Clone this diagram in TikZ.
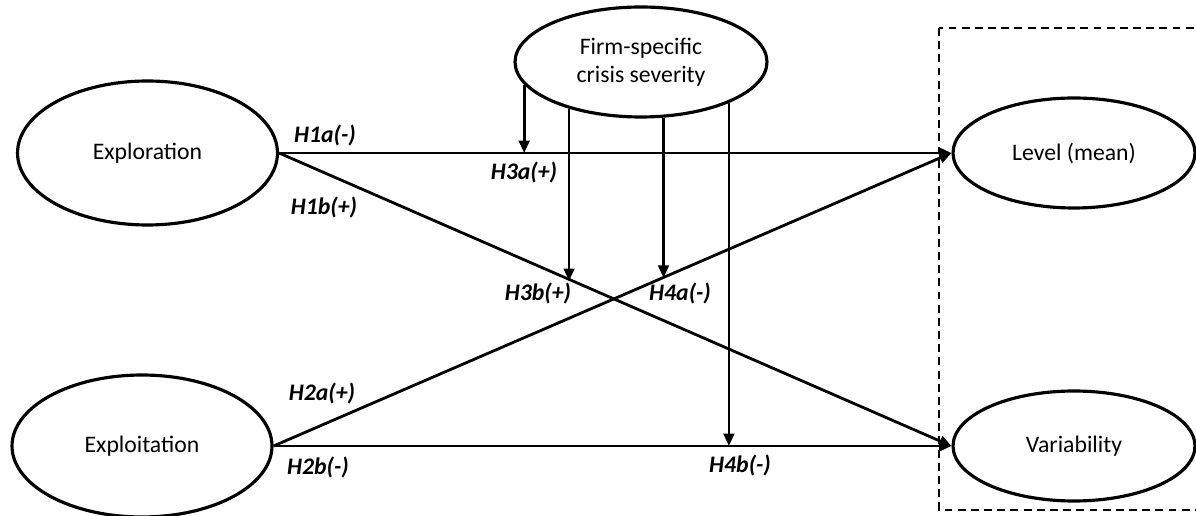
\documentclass[tikz,border=0pt]{standalone}
\usepackage{fontspec}
\setmainfont{Carlito}
\usetikzlibrary{arrows.meta,shapes.geometric,calc}

\begin{document}
\begin{tikzpicture}[x=0.02cm,y=-0.02cm,line width=1.6pt,
  every node/.style={font=\fontsize{13.5}{16}\selectfont},
  construct/.style={draw,ellipse,inner sep=0pt,line width=1.8pt},
  arr/.style={-{Triangle[length=7pt,width=6pt]}},
  hyp/.style={font=\fontsize{13.5}{15}\selectfont\bfseries\itshape}]
\useasboundingbox (0,0) rectangle (1196,516);
% outcome frame
\draw[line width=1.1pt,dash pattern=on 4.5pt off 3pt] (939,28) rectangle (1230,510);
% constructs
\node[construct,minimum width=5.2cm,minimum height=2.88cm] (explor) at (147.5,153) {Exploration};
\node[construct,minimum width=5.2cm,minimum height=2.84cm] (exploit) at (142,446) {Exploitation};
\node[construct,minimum width=5.04cm,minimum height=2.2cm,align=center] (firm) at (641,62) {Firm-specific\\crisis severity};
\node[construct,minimum width=4.84cm,minimum height=2.2cm] (level) at (1074,153) {Level (mean)};
\node[construct,minimum width=4.84cm,minimum height=2.2cm] (var) at (1074,446) {Variability};
% main effects
\draw[arr] (explor.east) -- (level.west);
\draw[arr] (explor.east) -- (var.west);
\draw[arr] (exploit.east) -- (level.west);
\draw[arr] (exploit.east) -- (var.west);
% moderation
\coordinate (m3b) at ($(explor.east)!0.4364!(var.west)$);
\coordinate (m4a) at ($(exploit.east)!0.5742!(level.west)$);
\draw[arr] (firm.191.6) -- (firm.191.6 |- explor.east);
\draw[arr] (firm.213.7) -- (firm.213.7 |- m3b);
\draw[arr] (firm.292.1) -- (firm.292.1 |- m4a);
\draw[arr] (firm.335.9) -- (firm.335.9 |- exploit.east);
% hypotheses
\node[hyp] (h1a) at (325,135) {H1a(-)};
\node[hyp] (h1b) at (324,207) {H1b(+)};
\node[hyp] (h2a) at (322,393) {H2a(+)};
\node[hyp] (h2b) at (318,467) {H2b(-)};
\node[hyp] (h3a) at (524,172) {H3a(+)};
\node[hyp] (h3b) at (538,293) {H3b(+)};
\node[hyp] (h4a) at (680,293) {H4a(-)};
\node[hyp] (h4b) at (740,465) {H4b(-)};
\end{tikzpicture}
\end{document}
